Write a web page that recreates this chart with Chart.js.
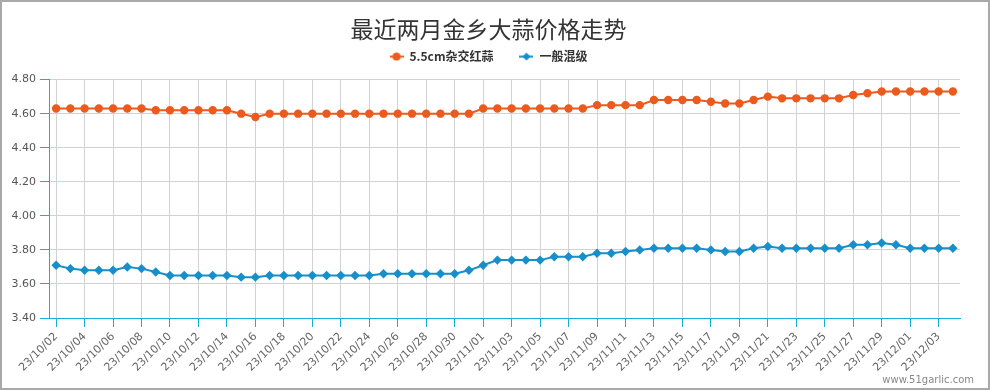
<!DOCTYPE html>
<html>
<head>
<meta charset="utf-8">
<script src="https://cdn.jsdelivr.net/npm/chart.js@4"></script>
<style>
  html, body { margin: 0; padding: 0; background: #fff; }
  #wrap {
    position: relative;
    width: 990px; height: 390px;
    box-sizing: border-box;
    border: 2px solid #a9a9a9;
  }
  #mark {
    position: absolute; right: 14px; bottom: 3px;
    font: 10px "DejaVu Sans", sans-serif; color: #888;
  }
</style>
</head>
<body>
<div id="wrap">
  <canvas id="priceChart"></canvas>
  <div id="mark">www.51garlic.com</div>
</div>
<script>
const dates = [
  "23/10/02","23/10/03","23/10/04","23/10/05","23/10/06","23/10/07","23/10/08","23/10/09",
  "23/10/10","23/10/11","23/10/12","23/10/13","23/10/14","23/10/15","23/10/16","23/10/17",
  "23/10/18","23/10/19","23/10/20","23/10/21","23/10/22","23/10/23","23/10/24","23/10/25",
  "23/10/26","23/10/27","23/10/28","23/10/29","23/10/30","23/10/31","23/11/01","23/11/02",
  "23/11/03","23/11/04","23/11/05","23/11/06","23/11/07","23/11/08","23/11/09","23/11/10",
  "23/11/11","23/11/12","23/11/13","23/11/14","23/11/15","23/11/16","23/11/17","23/11/18",
  "23/11/19","23/11/20","23/11/21","23/11/22","23/11/23","23/11/24","23/11/25","23/11/26",
  "23/11/27","23/11/28","23/11/29","23/11/30","23/12/01","23/12/02","23/12/03","23/12/04"
];

const hybridRed = [
  4.63, 4.63, 4.63, 4.63, 4.63, 4.63, 4.63, 4.62,
  4.62, 4.62, 4.62, 4.62, 4.62, 4.60, 4.58, 4.60,
  4.60, 4.60, 4.60, 4.60, 4.60, 4.60, 4.60, 4.60,
  4.60, 4.60, 4.60, 4.60, 4.60, 4.60, 4.63, 4.63,
  4.63, 4.63, 4.63, 4.63, 4.63, 4.63, 4.65, 4.65,
  4.65, 4.65, 4.68, 4.68, 4.68, 4.68, 4.67, 4.66,
  4.66, 4.68, 4.70, 4.69, 4.69, 4.69, 4.69, 4.69,
  4.71, 4.72, 4.73, 4.73, 4.73, 4.73, 4.73, 4.73
];

const mixedGrade = [
  3.71, 3.69, 3.68, 3.68, 3.68, 3.70, 3.69, 3.67,
  3.65, 3.65, 3.65, 3.65, 3.65, 3.64, 3.64, 3.65,
  3.65, 3.65, 3.65, 3.65, 3.65, 3.65, 3.65, 3.66,
  3.66, 3.66, 3.66, 3.66, 3.66, 3.68, 3.71, 3.74,
  3.74, 3.74, 3.74, 3.76, 3.76, 3.76, 3.78, 3.78,
  3.79, 3.80, 3.81, 3.81, 3.81, 3.81, 3.80, 3.79,
  3.79, 3.81, 3.82, 3.81, 3.81, 3.81, 3.81, 3.81,
  3.83, 3.83, 3.84, 3.83, 3.81, 3.81, 3.81, 3.81
];

const seriesNames = ["5.5cm杂交红蒜", "一般混级"];
const yTicks = [3.40, 3.60, 3.80, 4.00, 4.20, 4.40, 4.60, 4.80];

const orange = "#ec5a1d";
const blue = "#168fca";
const axisBlue = "#19ade0";
const gridGray = "#d2d2d2";

// little line+marker images for the legend
function legendMarker(color, style) {
  const c = document.createElement("canvas");
  c.width = 14; c.height = 9;
  const g = c.getContext("2d");
  g.strokeStyle = color; g.fillStyle = color; g.lineWidth = 2;
  g.beginPath(); g.moveTo(0, 4.5); g.lineTo(14, 4.5); g.stroke();
  g.beginPath();
  if (style === "circle") {
    g.arc(7, 4.5, 4, 0, Math.PI * 2);
  } else {
    g.moveTo(7, 0.5); g.lineTo(11, 4.5); g.lineTo(7, 8.5); g.lineTo(3, 4.5); g.closePath();
  }
  g.fill();
  return c;
}
const markers = [legendMarker(orange, "circle"), legendMarker(blue, "diamond")];

// empty axes used only as spacers around the plot
const spacer = (axis, position, size) => ({
  axis, position, display: true,
  grid: { display: false }, border: { display: false }, ticks: { display: false },
  afterFit: (s) => { if (axis === "x") s.height = size; else s.width = size; },
});

new Chart(document.getElementById("priceChart"), {
  type: "line",
  data: {
    labels: dates,
    datasets: [
      {
        label: seriesNames[0],
        data: hybridRed,
        xAxisID: "x", yAxisID: "y",
        borderColor: orange,
        backgroundColor: orange,
        borderWidth: 2,
        pointStyle: "circle",
        pointRadius: 3.2,
        tension: 0,
      },
      {
        label: seriesNames[1],
        data: mixedGrade,
        xAxisID: "x", yAxisID: "y",
        borderColor: blue,
        backgroundColor: blue,
        borderWidth: 2,
        pointStyle: "rectRot",
        pointRadius: 3.3,
        tension: 0,
      },
    ],
  },
  options: {
    responsive: true,
    maintainAspectRatio: false,
    animation: false,
    layout: { padding: { right: 13, left: 0, top: 0, bottom: 0 } },
    plugins: {
      title: {
        display: true,
        text: "最近两月金乡大蒜价格走势",
        color: "#333",
        font: { family: "'Noto Sans CJK SC'", size: 23, weight: "normal" },
        padding: { top: 13, bottom: -18 },
      },
      legend: {
        labels: {
          usePointStyle: true,
          pointStyleWidth: 14,
          color: "#333",
          padding: 26,
          font: { family: "'Noto Sans CJK SC'", size: 12, weight: "bold" },
          generateLabels: (chart) =>
            Chart.defaults.plugins.legend.labels.generateLabels(chart).map((item, i) => {
              item.pointStyle = markers[i];
              return item;
            }),
        },
      },
      tooltip: { enabled: false },
    },
    scales: {
      x: {
        offset: true,
        border: { color: axisBlue },
        grid: { color: gridGray, tickColor: axisBlue, tickLength: 9 },
        ticks: {
          autoSkip: false,
          minRotation: 45,
          maxRotation: 45,
          color: "#666",
          font: { family: "'DejaVu Sans'", size: 11 },
          callback: (v, i) => (i % 2 === 0 ? dates[i] : null),
        },
        afterFit: (s) => { s.height = 70; },
      },
      y: {
        min: yTicks[0],
        max: yTicks[yTicks.length - 1],
        border: { color: axisBlue },
        grid: { color: gridGray, tickColor: axisBlue, tickLength: 9 },
        ticks: {
          stepSize: 0.2,
          color: "#555",
          padding: 4,
          font: { family: "'DejaVu Sans'", size: 11 },
          callback: (v) => v.toFixed(2),
        },
        afterFit: (s) => { s.width = 47; },
      },
      xTop: spacer("x", "top", 7),
      yRight: spacer("y", "right", 15),
    },
  },
});
</script>
</body>
</html>
